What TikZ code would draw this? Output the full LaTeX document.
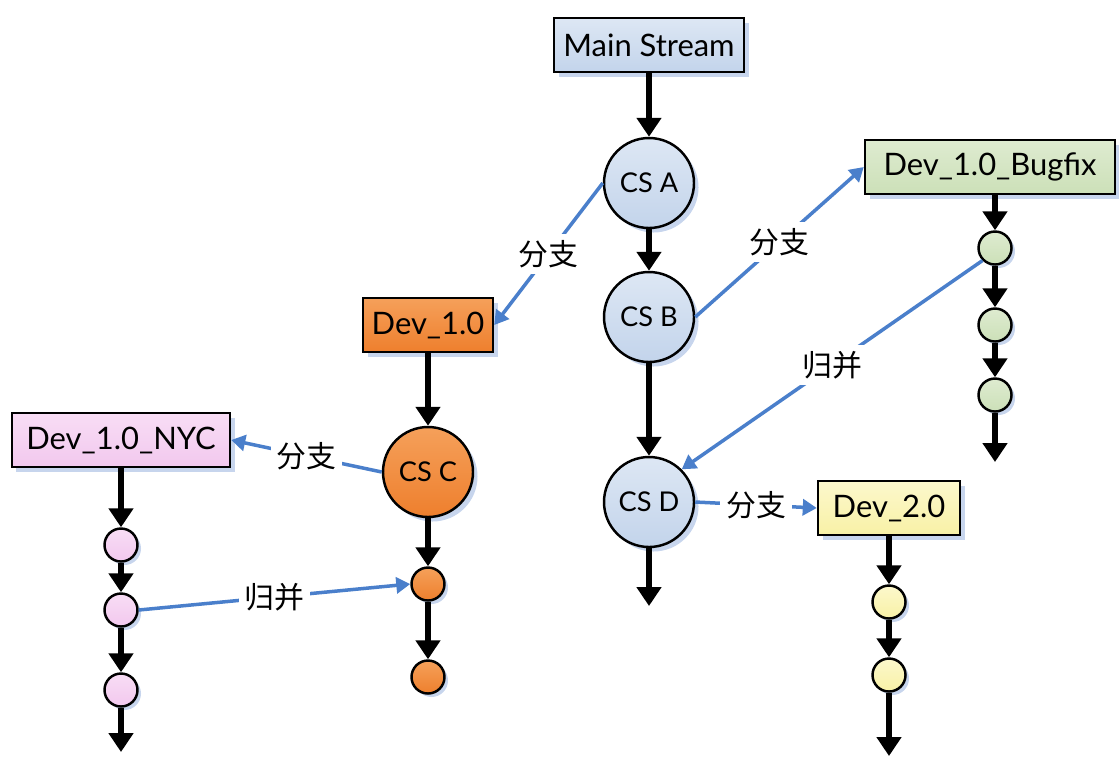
\documentclass[tikz,border=0pt]{standalone}
\usepackage{fontspec}
\setmainfont{Lato}
\newfontfamily\cjk{Noto Sans CJK SC}
\usetikzlibrary{arrows.meta,shadows}

\definecolor{mainblue}{HTML}{C3D4EB}
\definecolor{mainbluelt}{HTML}{DDE7F4}
\definecolor{devorange}{HTML}{EE7F2D}
\definecolor{devorangelt}{HTML}{F5A05A}
\definecolor{nycpink}{HTML}{F2C8EE}
\definecolor{nycpinklt}{HTML}{F8DDF5}
\definecolor{fixgreen}{HTML}{CCE0B8}
\definecolor{fixgreenlt}{HTML}{DEEBD0}
\definecolor{newyellow}{HTML}{F8F1A6}
\definecolor{newyellowlt}{HTML}{FCF8CC}
\definecolor{linkblue}{HTML}{4A7FCB}
\definecolor{shadeblue}{HTML}{B9CBE8}

\begin{document}
\begin{tikzpicture}[x=0.2mm, y=-0.2mm,
  every node/.style={font=\fontsize{17.6}{20}\selectfont},
  box/.style={draw=black, line width=1.4pt, minimum height=10.8mm, inner xsep=1.2mm,
    drop shadow={fill=shadeblue, opacity=0.8, shadow xshift=0.9mm, shadow yshift=-0.9mm}},
  commit/.style={circle, draw=black, line width=1.4pt, minimum size=18mm, inner sep=0pt,
    font=\fontsize{15.5}{18}\selectfont,
    drop shadow={fill=shadeblue, opacity=0.8, shadow xshift=0.9mm, shadow yshift=-0.9mm}},
  dot/.style={circle, draw=black, line width=1.4pt, minimum size=6.6mm, inner sep=0pt,
    drop shadow={fill=shadeblue, opacity=0.8, shadow xshift=0.7mm, shadow yshift=-0.7mm}},
  flow/.style={line width=1.3mm, -{Triangle[width=4.8mm,length=3.8mm]}},
  link/.style={draw=linkblue, line width=0.7mm, -{Triangle[width=3.2mm,length=2.8mm]}},
  tag/.style={fill=white, text=black, inner sep=1.2mm, font=\cjk\fontsize{17}{20}\selectfont}]

  \useasboundingbox (0,0) rectangle (1119,758);

  % main stream and its change sets
  \node[box, minimum width=38mm, top color=mainbluelt, bottom color=mainblue] (main) at (649,45) {Main Stream};
  \node[commit, top color=mainbluelt, bottom color=mainblue] (csA) at (649,183) {CS A};
  \node[commit, top color=mainbluelt, bottom color=mainblue] (csB) at (649,317) {CS B};
  \node[commit, top color=mainbluelt, bottom color=mainblue] (csD) at (649,502) {CS D};
  \coordinate (mainEnd) at (649,606);

  % Dev_1.0 branch
  \node[box, minimum width=26mm, top color=devorangelt, bottom color=devorange] (dev1) at (428,325) {Dev\_1.0};
  \node[commit, top color=devorangelt, bottom color=devorange] (csC) at (428,472) {CS C};
  \node[dot, top color=devorangelt, bottom color=devorange] (c1) at (428,584) {};
  \node[dot, top color=devorangelt, bottom color=devorange] (c2) at (428,677) {};

  % Dev_1.0_NYC branch
  \node[box, minimum width=43.6mm, top color=nycpinklt, bottom color=nycpink] (nyc) at (121,440) {Dev\_1.0\_NYC};
  \node[dot, top color=nycpinklt, bottom color=nycpink] (n1) at (121,545) {};
  \node[dot, top color=nycpinklt, bottom color=nycpink] (n2) at (121,610) {};
  \node[dot, top color=nycpinklt, bottom color=nycpink] (n3) at (121,690) {};
  \coordinate (nycEnd) at (121,752);

  % Dev_1.0_Bugfix branch
  \node[box, minimum width=50mm, top color=fixgreenlt, bottom color=fixgreen] (fix) at (990,167) {Dev\_1.0\_Bugfix};
  \node[dot, top color=fixgreenlt, bottom color=fixgreen] (g1) at (995,248) {};
  \node[dot, top color=fixgreenlt, bottom color=fixgreen] (g2) at (995,325) {};
  \node[dot, top color=fixgreenlt, bottom color=fixgreen] (g3) at (995,395) {};
  \coordinate (fixEnd) at (995,462);

  % Dev_2.0 branch
  \node[box, minimum width=28.4mm, top color=newyellowlt, bottom color=newyellow] (dev2) at (889,508) {Dev\_2.0};
  \node[dot, top color=newyellowlt, bottom color=newyellow] (y1) at (889,602) {};
  \node[dot, top color=newyellowlt, bottom color=newyellow] (y2) at (889,675) {};
  \coordinate (dev2End) at (889,756);

  % history lines
  \draw[flow] (main) -- (csA);
  \draw[flow] (csA) -- (csB);
  \draw[flow] (csB) -- (csD);
  \draw[flow] (csD) -- (mainEnd);
  \draw[flow] (dev1) -- (csC);
  \draw[flow] (csC) -- (c1);
  \draw[flow] (c1) -- (c2);
  \draw[flow] (nyc) -- (n1);
  \draw[flow] (n1) -- (n2);
  \draw[flow] (n2) -- (n3);
  \draw[flow] (n3) -- (nycEnd);
  \draw[flow] (g1 |- fix.south) -- (g1);
  \draw[flow] (g1) -- (g2);
  \draw[flow] (g2) -- (g3);
  \draw[flow] (g3) -- (fixEnd);
  \draw[flow] (dev2) -- (y1);
  \draw[flow] (y1) -- (y2);
  \draw[flow] (y2) -- (dev2End);

  % branches and merges
  \draw[link] (csA.west) -- node[tag] {分支} (dev1.east);
  \draw[link] (csB.east) -- node[tag] {分支} (fix.west);
  \draw[link] (g1.south west) -- node[tag] {归并} (csD.north east);
  \draw[link] (csC.west) -- node[tag] {分支} (nyc.east);
  \draw[link] (n2.east) -- node[tag] {归并} (c1.west);
  \draw[link] (csD.east) -- node[tag] {分支} (dev2.west);
\end{tikzpicture}
\end{document}
